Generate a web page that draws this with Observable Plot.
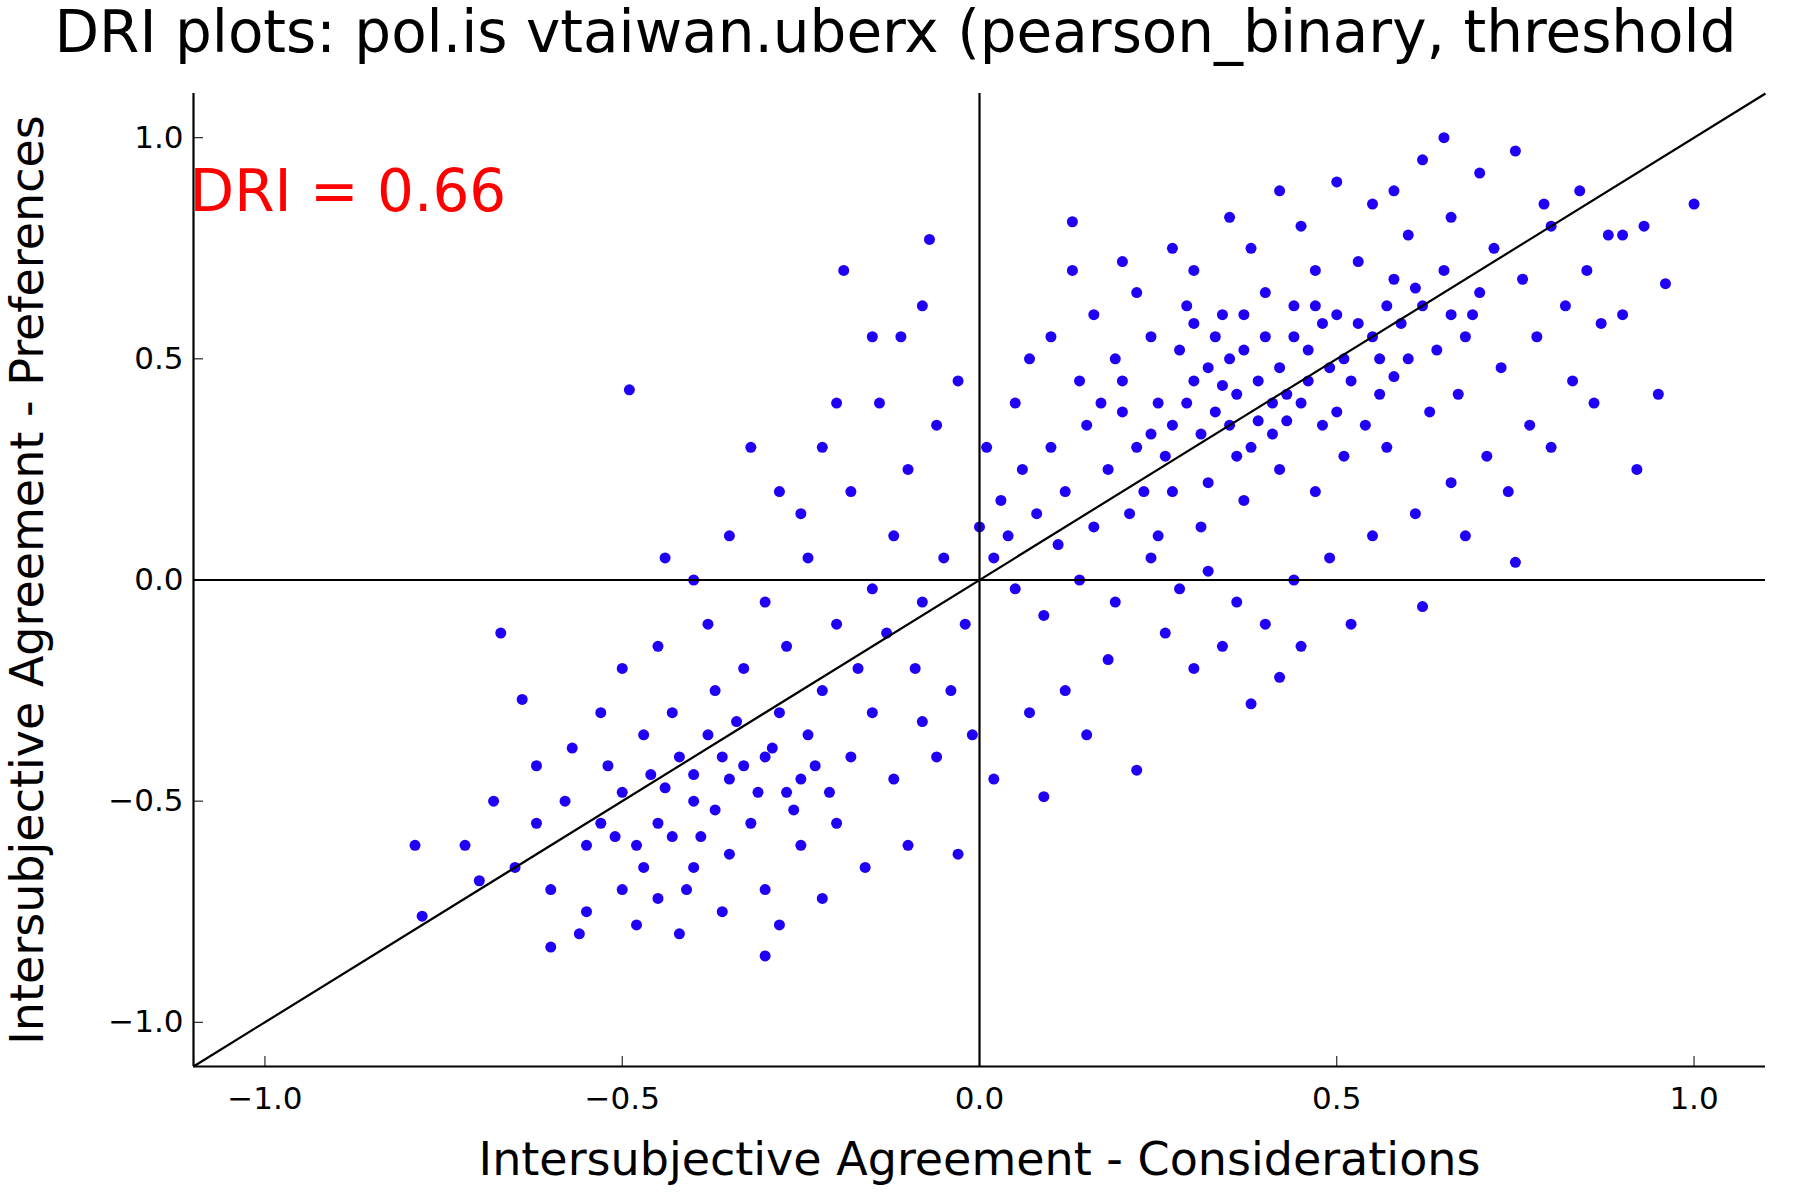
<!DOCTYPE html>
<html>
<head>
<meta charset="utf-8">
<script src="https://cdn.jsdelivr.net/npm/d3@7"></script>
<script src="https://cdn.jsdelivr.net/npm/@observablehq/plot@0.6"></script>
<style>
  body { margin: 0; background: white; }
  #chart { width: 1800px; height: 1200px; overflow: hidden; }
</style>
</head>
<body>
<div id="chart"></div>
<script>
const titulo = 'DRI plots: pol.is vtaiwan.uberx (pearson_binary, threshold'
const etiquetaX = 'Intersubjective Agreement - Considerations'
const etiquetaY = 'Intersubjective Agreement - Preferences'
const dri = 0.66
const dominio = [-1.1, 1.1]
const ticks = [-1, -0.5, 0, 0.5, 1]

/* pares [consideraciones, preferencias] */
const puntos = [
  [0.30,0.45],[0.35,0.50],[0.40,0.55],[0.45,0.40],[0.50,0.60],[0.38,0.30],[0.42,0.48],[0.33,0.38],[0.28,0.52],[0.46,0.52],
  [0.52,0.45],[0.55,0.55],[0.60,0.50],[0.36,0.42],[0.31,0.33],[0.25,0.40],[0.22,0.30],[0.18,0.25],[0.15,0.35],[0.12,0.20],
  [0.20,0.45],[0.26,0.28],[0.44,0.62],[0.48,0.35],[0.56,0.42],[0.62,0.62],[0.65,0.70],[0.70,0.65],[0.72,0.75],[0.68,0.55],
  [0.58,0.68],[0.53,0.72],[0.47,0.70],[0.40,0.65],[0.34,0.60],[0.29,0.62],[0.24,0.55],[0.19,0.50],[0.14,0.45],[0.10,0.30],
  [0.08,0.15],[0.06,0.25],[0.04,0.10],[0.02,0.05],[0.11,0.08],[0.16,0.12],[0.21,0.15],[0.27,0.20],[0.32,0.22],[0.37,0.18],
  [0.42,0.25],[0.47,0.20],[0.51,0.28],[0.57,0.30],[0.63,0.38],[0.67,0.42],[0.73,0.48],[0.78,0.55],[0.82,0.62],[0.85,0.70],
  [0.88,0.78],[0.80,0.80],[0.76,0.68],[0.66,0.82],[0.60,0.78],[0.55,0.85],[0.45,0.80],[0.38,0.75],[0.30,0.70],[0.22,0.65],
  [0.16,0.60],[0.10,0.55],[0.05,0.40],[0.07,0.50],[0.13,0.70],[0.20,0.72],[0.27,0.75],[0.35,0.82],[0.42,0.88],[0.50,0.90],
  [0.58,0.88],[0.62,0.95],[0.70,0.92],[0.79,0.85],[0.84,0.88],[0.90,0.78],[0.93,0.80],[0.87,0.58],[0.83,0.45],[0.77,0.35],
  [0.71,0.28],[0.66,0.22],[0.61,0.15],[0.55,0.10],[0.49,0.05],[0.44,0.00],[0.40,-0.10],[0.36,-0.05],[0.32,0.02],[0.28,-0.02],
  [0.24,0.05],[0.19,-0.05],[0.14,0.00],[0.09,-0.08],[0.05,-0.02],[0.03,0.18],[0.01,0.30],[0.00,0.12],[0.34,-0.15],[0.30,-0.20],
  [0.26,-0.12],[0.42,-0.22],[0.45,-0.15],[0.18,-0.18],[0.12,-0.25],[0.07,-0.30],[0.15,-0.35],[0.68,0.10],[0.74,0.20],[0.80,0.30],
  [0.86,0.40],[0.90,0.60],[0.75,0.04],[0.62,-0.06],[0.52,-0.10],[0.92,0.25],[0.95,0.42],[0.96,0.67],[1.00,0.85],[0.65,1.00],
  [0.75,0.97],[0.13,0.81],[0.22,-0.43],[0.09,-0.49],[0.38,-0.28],[0.57,0.62],[0.43,0.42],[0.39,0.45],[0.48,0.58],[0.51,0.50],
  [0.35,0.35],[0.33,0.55],[0.27,0.35],[0.23,0.20],[0.17,0.40],[0.41,0.33],[0.54,0.35],[0.59,0.58],[0.64,0.52],[0.69,0.60],
  [0.25,0.10],[0.31,0.12],[0.37,0.60],[0.46,0.45],
  [0.32,0.48],[0.37,0.52],[0.41,0.40],[0.44,0.55],[0.49,0.48],[0.53,0.58],[0.39,0.36],[0.34,0.44],[0.29,0.40],[0.43,0.36],
  [0.47,0.62],[0.56,0.50],[0.61,0.66],[0.36,0.28],[0.24,0.33],[0.20,0.38],[0.30,0.58],[0.50,0.38],[0.58,0.46],[0.66,0.60],
  [-0.05,0.05],[-0.02,-0.10],[-0.08,-0.05],[-0.12,0.10],[-0.15,-0.02],[-0.10,0.25],[-0.18,0.20],[-0.22,0.30],[-0.06,0.35],[-0.03,0.45],
  [-0.14,0.40],[-0.25,0.15],[-0.07,0.77],[-0.19,0.70],[-0.11,0.55],[-0.04,-0.25],[-0.01,-0.35],[0.02,-0.45],[-0.03,-0.62],[-0.06,-0.40],
  [-0.09,-0.20],
  [-0.35,-0.45],[-0.30,-0.40],[-0.40,-0.50],[-0.45,-0.55],[-0.50,-0.48],[-0.38,-0.35],[-0.32,-0.55],[-0.28,-0.30],[-0.25,-0.45],[-0.42,-0.40],
  [-0.48,-0.60],[-0.55,-0.60],[-0.52,-0.42],[-0.58,-0.50],[-0.62,-0.55],[-0.65,-0.65],[-0.60,-0.70],[-0.55,-0.75],[-0.50,-0.70],[-0.45,-0.72],
  [-0.40,-0.65],[-0.35,-0.62],[-0.30,-0.70],[-0.25,-0.60],[-0.20,-0.55],[-0.18,-0.40],[-0.22,-0.25],[-0.27,-0.15],[-0.33,-0.20],[-0.37,-0.25],
  [-0.43,-0.30],[-0.47,-0.35],[-0.53,-0.30],[-0.57,-0.38],[-0.62,-0.42],[-0.68,-0.50],[-0.72,-0.60],[-0.79,-0.60],[-0.78,-0.76],[-0.60,-0.83],
  [-0.30,-0.85],[-0.67,-0.12],[-0.44,0.05],[-0.49,0.43],[-0.15,-0.30],[-0.12,-0.45],[-0.10,-0.60],[-0.16,-0.65],[-0.22,-0.72],[-0.28,-0.78],
  [-0.36,-0.75],[-0.42,-0.80],[-0.48,-0.78],[-0.56,-0.80],[-0.20,-0.10],[-0.30,-0.05],[-0.38,-0.10],[-0.45,-0.15],[-0.50,-0.20],[-0.35,0.10],
  [-0.28,0.20],[-0.40,0.00],[-0.24,-0.35],[-0.31,-0.48],[-0.39,-0.58],[-0.44,-0.47],[-0.26,-0.52],[-0.34,-0.32],[-0.21,-0.48],[-0.17,-0.20],
  [-0.13,-0.12],[-0.08,-0.32],[-0.24,0.05],[-0.32,0.30],[-0.20,0.40],[-0.15,0.55],[-0.08,0.62],[-0.64,-0.27],[-0.70,-0.68],[-0.53,-0.55],
  [-0.47,-0.65],[-0.41,-0.70],
  [-0.33,-0.42],[-0.37,-0.52],[-0.43,-0.58],[-0.27,-0.48],[-0.29,-0.38],[-0.46,-0.44],[-0.51,-0.58],[-0.36,-0.40],[-0.23,-0.42],[-0.40,-0.44]
]

const fmt = d3.format('.1f')

const chart = Plot.plot({
  width: 1800,
  height: 1200,
  marginTop: 93,
  marginLeft: 193,
  marginRight: 35,
  marginBottom: 134,
  style: { fontFamily: 'DejaVu Sans', background: 'white', color: 'black' },
  x: { domain: dominio, ticks: ticks, tickFormat: fmt, label: null },
  y: { domain: dominio, ticks: ticks, tickFormat: fmt, label: null },
  marks: [
    Plot.axisX({ ticks: ticks, tickFormat: fmt, tickSize: -10, tickPadding: 30, fontSize: 31 }),
    Plot.axisY({ ticks: ticks, tickFormat: fmt, tickSize: -10, tickPadding: 20, fontSize: 31 }),
    Plot.ruleX([dominio[0]], { stroke: 'black', strokeWidth: 2.2 }),
    Plot.ruleY([dominio[0]], { stroke: 'black', strokeWidth: 2.2 }),
    Plot.dot(puntos, { x: d => d[0], y: d => d[1], r: 5.5, fill: '#2000f5', stroke: 'none' }),
    Plot.ruleX([0], { stroke: 'black', strokeWidth: 2.2 }),
    Plot.ruleY([0], { stroke: 'black', strokeWidth: 2.2 }),
    Plot.link([dominio], { x1: d => d[0], y1: d => d[0], x2: d => d[1], y2: d => d[1], stroke: 'black', strokeWidth: 2.2 }),
    Plot.text([`DRI = ${dri}`], { frameAnchor: 'top-left', dx: -4, dy: 76, fill: 'red', fontSize: 58, textAnchor: 'start' }),
    Plot.text([titulo], { frameAnchor: 'top', dx: -84, dy: -83, fill: 'black', fontSize: 58 }),
    Plot.text([etiquetaX], { frameAnchor: 'bottom', dy: 108, fill: 'black', fontSize: 46 }),
    Plot.text([etiquetaY], { frameAnchor: 'left', dx: -165, rotate: -90, textAnchor: 'middle', fill: 'black', fontSize: 46 })
  ]
})

d3.select('#chart').append(() => chart)
</script>
</body>
</html>
